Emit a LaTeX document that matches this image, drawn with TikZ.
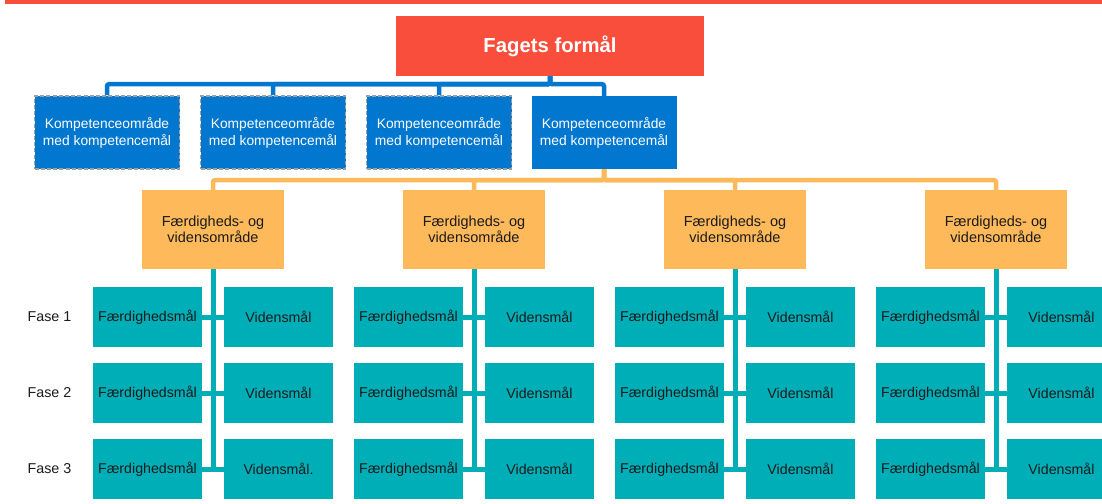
\documentclass[tikz,border=0pt]{standalone}
\usepackage{fontspec}
\setmainfont{Liberation Sans}
\definecolor{cred}{HTML}{FA4E3C}
\definecolor{cblue}{HTML}{0177CF}
\definecolor{corange}{HTML}{FDB95A}
\definecolor{cteal}{HTML}{00AEB8}
\definecolor{ctext}{HTML}{1B1B1B}
\tikzset{
  redbox/.style={fill=cred, minimum width=308pt, minimum height=60pt, inner sep=0pt, text=white, font=\fontsize{20.3}{24}\selectfont\bfseries},
  bluebox/.style={fill=cblue, minimum width=145pt, minimum height=73pt, inner sep=0pt, text=white, align=center, font=\fontsize{13.8}{17}\selectfont},
  dashbox/.style={bluebox, draw=gray!75, line width=1.6pt, dash pattern=on 4pt off 2.2pt},
  orangebox/.style={fill=corange, minimum width=142pt, minimum height=79pt, inner sep=0pt, text=ctext, align=center, font=\fontsize{14.5}{16}\selectfont},
  tealbox/.style={fill=cteal, minimum width=109pt, minimum height=60pt, inner sep=0pt, text=ctext, font=\fontsize{14.2}{16}\selectfont},
  faselabel/.style={inner sep=0pt, text=ctext, font=\fontsize{14.3}{16}\selectfont},
  blueline/.style={draw=cblue, line width=4.5pt, rounded corners=2pt},
  orangeline/.style={draw=corange, line width=4.5pt, rounded corners=2pt},
  tealline/.style={draw=cteal, line width=5pt},
}
\begin{document}
\begin{tikzpicture}[x=1pt, y=-1pt]
\clip (0,0) rectangle (1102,503);
\fill[white] (0,0) rectangle (1102,503);
\fill[cred] (5,0) rectangle (1102,4.5);

\node[redbox] (top) at (550,46) {Fagets formål};

\node[dashbox] (k1) at (107,132.5) {Kompetenceområde\\med kompetencemål};
\node[dashbox] (k2) at (273,132.5) {Kompetenceområde\\med kompetencemål};
\node[dashbox] (k3) at (439,132.5) {Kompetenceområde\\med kompetencemål};
\node[bluebox] (k4) at (604,132.5) {Kompetenceområde\\med kompetencemål};

\foreach \k in {k1,k2,k3,k4}{
  \draw[blueline] (top.south) -- ++(0,8) -| (\k.north);
}

\foreach \i/\x in {1/213,2/474,3/735,4/996}{
  \node[orangebox] (o\i) at (\x,229.5) {Færdigheds- og\\vidensområde};
  \draw[orangeline] (k4.south) -- ++(0,11) -| (o\i.north);
  \foreach \r/\y in {1/317,2/393,3/469}{
    \node[tealbox] (l\i\r) at (\x-65.5,\y) {Færdighedsmål};
  }
  \node[tealbox] (r\i1) at (\x+65.5,317) {Vidensmål};
  \node[tealbox] (r\i2) at (\x+65.5,393) {Vidensmål};
  \draw[tealline] (o\i.south) -- (o\i.south |- l\i3.east);
  \foreach \r in {1,2}{
    \draw[tealline] (l\i\r.east) -- (r\i\r.west);
  }
}
\node[tealbox] (r13) at (278.5,469) {Vidensmål.};
\node[tealbox] (r23) at (539.5,469) {Vidensmål};
\node[tealbox] (r33) at (800.5,469) {Vidensmål};
\node[tealbox] (r43) at (1061.5,469) {Vidensmål};
\foreach \i in {1,2,3,4}{
  \draw[tealline] (l\i3.east) -- (r\i3.west);
}

\node[faselabel] (f1) at (49.5,317) {Fase 1};
\node[faselabel] (f2) at (49.5,393) {Fase 2};
\node[faselabel] (f3) at (49.5,469) {Fase 3};
\end{tikzpicture}
\end{document}
